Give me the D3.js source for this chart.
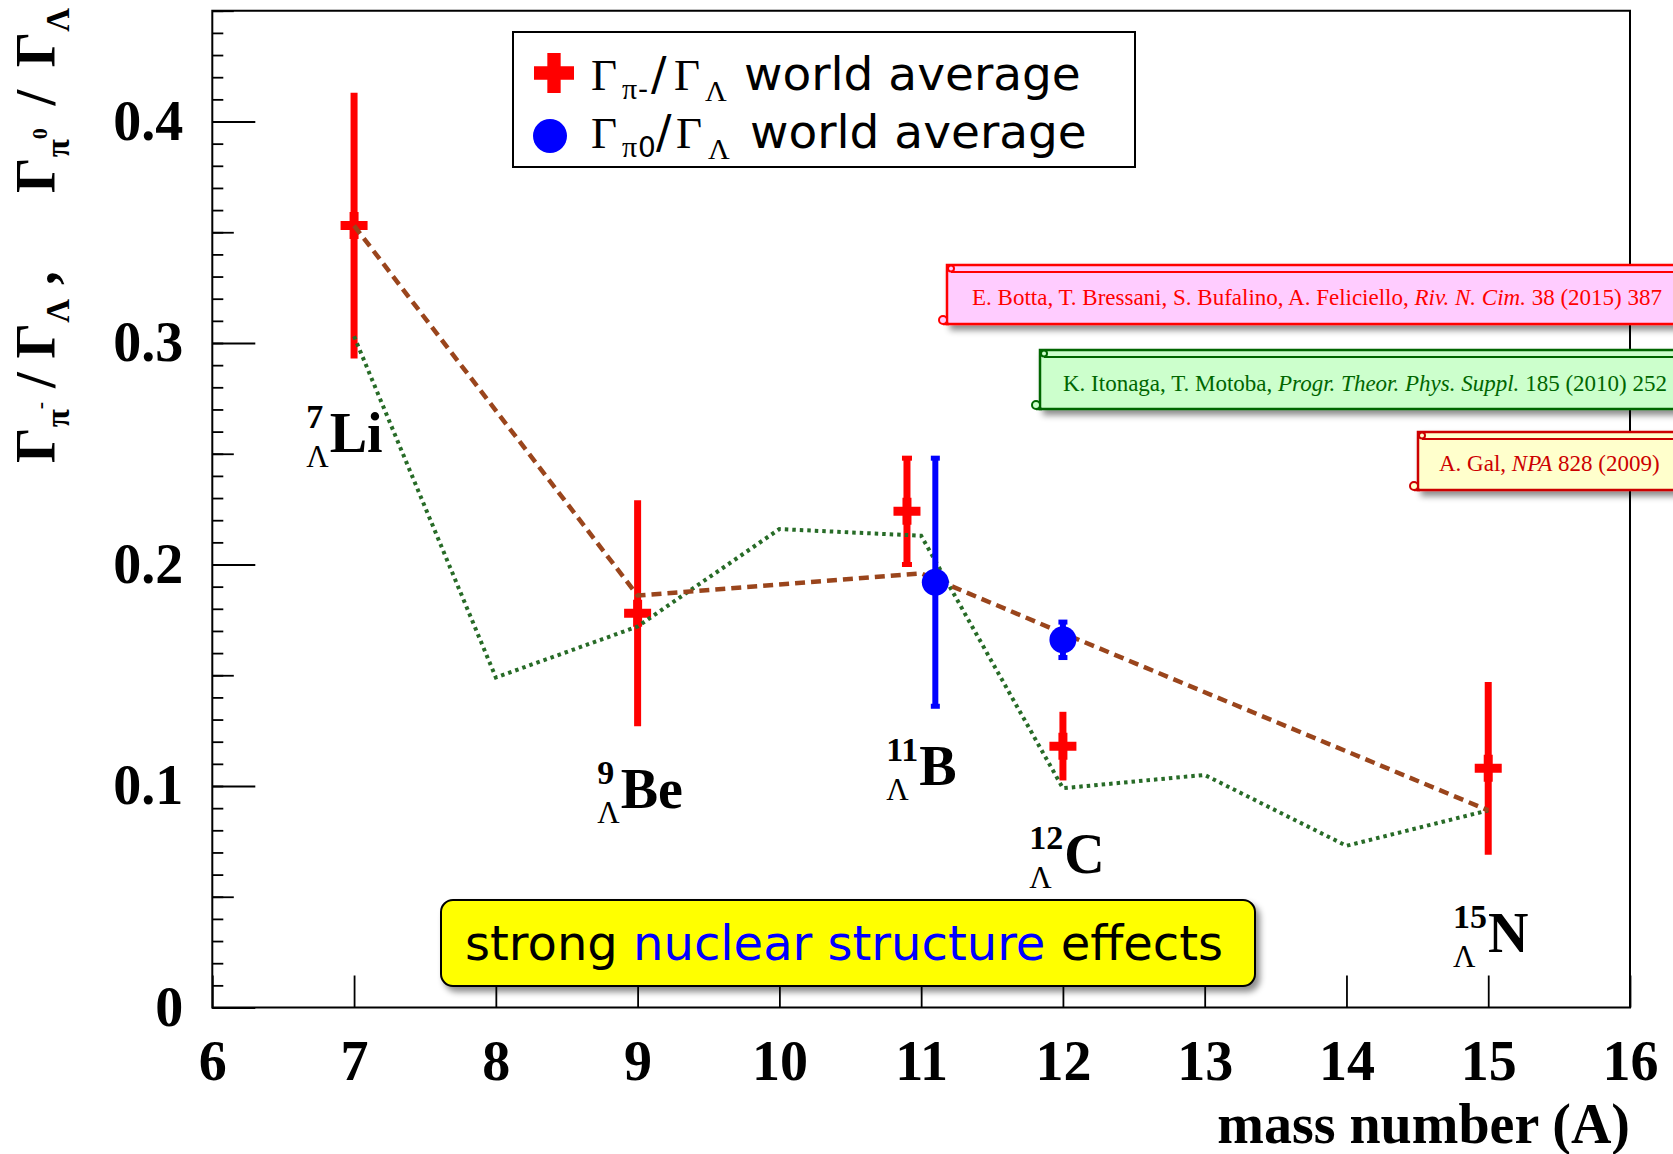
<!DOCTYPE html>
<html>
<head>
<meta charset="utf-8">
<script src="https://cdn.jsdelivr.net/npm/d3@7"></script>
<style>
  html, body { margin: 0; padding: 0; background: #ffffff; }
  svg { display: block; }
</style>
</head>
<body>
<svg id="chart" width="1673" height="1154"></svg>
<script>
// ---- measured decay-rate ratios (world averages) ----
const piMinusNuclide = ["7Li", "9Be", "11B", "12C", "15N"];
const piMinusA       = [7, 9, 10.9, 12, 15];
const piMinusRatio   = [0.353, 0.178, 0.224, 0.118, 0.108];
const piMinusErr     = [0.060, 0.051, 0.024, 0.0155, 0.039];

const piZeroNuclide  = ["11B", "12C"];
const piZeroA        = [11.1, 12];
const piZeroRatio    = [0.192, 0.166];
const piZeroErr      = [0.056, 0.008];

// ---- theoretical curves ----
const galA        = [7, 9, 11, 12, 15];
const galRatio    = [0.353, 0.186, 0.196, 0.169, 0.089];
const motobaA     = [7, 8, 9, 10, 11, 12, 13, 14, 15];
const motobaRatio = [0.303, 0.149, 0.172, 0.216, 0.213, 0.099, 0.105, 0.073, 0.089];

// ---- axes ----
const xTickValues = [6, 7, 8, 9, 10, 11, 12, 13, 14, 15, 16];
const xTickLabels = ["6", "7", "8", "9", "10", "11", "12", "13", "14", "15", "16"];
const yTickValues = [0, 0.1, 0.2, 0.3, 0.4];
const yTickLabels = ["0", "0.1", "0.2", "0.3", "0.4"];

// ---- hypernucleus labels ----
const labelMass   = ["7", "9", "11", "12", "15"];
const labelSymbol = ["Li", "Be", "B", "C", "N"];

// ================= drawing =================
const W = 1673, H = 1154;
const SERIF = "'Liberation Serif', 'Times New Roman', Times, serif";
const SANS  = "'DejaVu Sans', Verdana, sans-serif";
const RED = "#ff0000", BLUE = "#0000ff";
const BROWN = "#9a451c", GREEN = "#276b27";

const svg = d3.select("#chart");
const defs = svg.append("defs");
const sh = defs.append("filter").attr("id", "shadow")
  .attr("x", "-5%").attr("y", "-30%").attr("width", "115%").attr("height", "180%");
sh.append("feDropShadow").attr("dx", 4).attr("dy", 5).attr("stdDeviation", 3)
  .attr("flood-color", "#000").attr("flood-opacity", 0.45);

const frame = { left: 212.3, right: 1630, top: 10.75, bottom: 1007.5 };
const x = d3.scaleLinear().domain([6, 16]).range([frame.left, frame.right]);
const y = d3.scaleLinear().domain([0, 0.45]).range([frame.bottom, frame.top]);

// y ticks: minor (0.01), half (0.05), major (0.1, labelled)
const yMinor = d3.range(0, 0.4501, 0.01).map(v => +v.toFixed(2));
const yHalf  = d3.range(0.05, 0.4501, 0.1).map(v => +v.toFixed(2));
function tickLayer(axis) {
  const g = svg.append("g").attr("transform", `translate(${frame.left},0)`).call(axis);
  g.select(".domain").remove();
  g.selectAll("line").attr("stroke", "#000").attr("stroke-width", 1.8);
  return g;
}
tickLayer(d3.axisLeft(y).tickValues(yMinor).tickSize(-11).tickFormat(""));
tickLayer(d3.axisLeft(y).tickValues(yHalf).tickSize(-21.5).tickFormat(""));
const yMajor = tickLayer(d3.axisLeft(y).tickValues(yTickValues).tickSize(-43).tickPadding(29)
  .tickFormat((d, i) => yTickLabels[i]));
yMajor.selectAll("text").attr("fill", "#000")
  .style("font-family", SERIF).style("font-weight", "bold").style("font-size", "56px");

const xAxisG = svg.append("g").attr("transform", `translate(0,${frame.bottom})`)
  .call(d3.axisBottom(x).tickValues(xTickValues).tickSize(-32).tickPadding(33)
    .tickFormat((d, i) => xTickLabels[i]));
xAxisG.select(".domain").remove();
xAxisG.selectAll("line").attr("stroke", "#000").attr("stroke-width", 1.8);
xAxisG.selectAll("text").attr("fill", "#000")
  .style("font-family", SERIF).style("font-weight", "bold").style("font-size", "56px");

// frame
svg.append("rect").attr("x", frame.left).attr("y", frame.top)
  .attr("width", frame.right - frame.left).attr("height", frame.bottom - frame.top)
  .attr("fill", "none").attr("stroke", "#000").attr("stroke-width", 2);

// axis titles
svg.append("text").attr("x", frame.right).attr("y", 1143).attr("text-anchor", "end")
  .style("font-family", SERIF).style("font-weight", "bold").style("font-size", "56px")
  .text("mass number (A)");

// vertical title, two ratios read bottom to top
function ratioTitle(tx, anchor, pionSup, trailing, span) {
  const t = svg.append("text")
    .attr("transform", "translate(55,0) rotate(-90)")
    .attr("x", tx).attr("y", 0).attr("text-anchor", anchor)
    .style("font-family", SERIF).style("font-weight", "bold").style("font-size", "56px");
  t.append("tspan").text("Γ");
  t.append("tspan").attr("dy", 14).style("font-size", "33px").text("π");
  t.append("tspan").attr("dy", -22).style("font-size", "22px").text(pionSup);
  const slash = t.append("tspan").attr("dy", 8).text("\u00a0/\u00a0");
  const g2 = t.append("tspan").text("Γ");
  t.append("tspan").attr("dy", 14).style("font-size", "33px").text("Λ");
  if (trailing) t.append("tspan").attr("dy", -14).text(trailing);
  if (span) {
    const extra = Math.max(0, span - t.node().getComputedTextLength());
    slash.attr("dx", extra / 2);
    g2.attr("dx", extra / 2);
  }
}
ratioTitle(-463, "start", "-", "\u00a0,", null);
ratioTitle(-8, "end", "0", null, 185);

// reference scroll labels
function scrollBox(b) {
  const g = svg.append("g");
  const right = W + 60;
  g.append("rect").attr("x", b.x0).attr("y", b.top)
    .attr("width", right - b.x0).attr("height", b.bottom - b.top)
    .attr("fill", b.fill).attr("stroke", b.stroke).attr("stroke-width", 2.5)
    .attr("filter", "url(#shadow)");
  g.append("line").attr("x1", b.x0 + 4).attr("x2", right)
    .attr("y1", b.top + 7).attr("y2", b.top + 7)
    .attr("stroke", b.stroke).attr("stroke-width", 2);
  g.append("circle").attr("cx", b.x0 + 4).attr("cy", b.top + 3.5).attr("r", 3)
    .attr("fill", b.fill).attr("stroke", b.stroke).attr("stroke-width", 2);
  g.append("line").attr("x1", b.x0 - 4).attr("x2", b.x0 + 2)
    .attr("y1", b.bottom).attr("y2", b.bottom)
    .attr("stroke", b.stroke).attr("stroke-width", 2.5);
  g.append("circle").attr("cx", b.x0 - 4).attr("cy", b.bottom - 4).attr("r", 4)
    .attr("fill", b.fill).attr("stroke", b.stroke).attr("stroke-width", 2);
  const t = g.append("text").attr("x", b.tx).attr("y", b.ty).attr("fill", b.stroke)
    .style("font-family", SERIF).style("font-size", "23px");
  b.parts.forEach(p => t.append("tspan").style("font-style", p.i ? "italic" : "normal").text(p.s));
}
scrollBox({ x0: 947, top: 265, bottom: 324, tx: 972, ty: 305,
  fill: "#ffccff", stroke: "#ff0000",
  parts: [{ s: "E. Botta, T. Bressani, S. Bufalino, A. Feliciello, " }, { s: "Riv. N. Cim.", i: true }, { s: " 38 (2015) 387" }] });
scrollBox({ x0: 1040, top: 350, bottom: 409, tx: 1063, ty: 391,
  fill: "#ccffcc", stroke: "#006600",
  parts: [{ s: "K. Itonaga, T. Motoba, " }, { s: "Progr. Theor. Phys. Suppl.", i: true }, { s: " 185 (2010) 252" }] });
scrollBox({ x0: 1418, top: 432, bottom: 490, tx: 1439, ty: 471,
  fill: "#ffffcc", stroke: "#cc0000",
  parts: [{ s: "A. Gal, " }, { s: "NPA", i: true }, { s: " 828 (2009)" }] });

// hypernucleus labels, anchored in data units (left edge of prescripts, symbol baseline)
const labelAnchors = [[6.663, 0.2508], [8.715, 0.090], [10.753, 0.1004], [11.762, 0.0607], [14.752, 0.0251]];
labelSymbol.forEach((sym, i) => {
  const ax = x(labelAnchors[i][0]), ay = y(labelAnchors[i][1]);
  const g = svg.append("g");
  const sup = g.append("text").attr("x", ax).attr("y", ay - 24)
    .style("font-family", SERIF).style("font-weight", "bold").style("font-size", "34px").text(labelMass[i]);
  const sub = g.append("text").attr("x", ax).attr("y", ay + 15)
    .style("font-family", SERIF).style("font-size", "31px").text("Λ");
  const w = Math.max(sup.node().getComputedTextLength(), sub.node().getComputedTextLength());
  g.append("text").attr("x", ax + w + 1).attr("y", ay)
    .style("font-family", SERIF).style("font-weight", "bold").style("font-size", "56px").text(sym);
});

// pi- measurements
const cross = d3.symbol(d3.symbolCross, 5 * Math.pow(27 / 3, 2));
const redG = svg.append("g");
piMinusRatio.forEach((v, i) => {
  const cx = x(piMinusA[i]);
  redG.append("line").attr("x1", cx).attr("x2", cx)
    .attr("y1", y(v + piMinusErr[i])).attr("y2", y(v - piMinusErr[i]))
    .attr("stroke", RED).attr("stroke-width", 7);
  if (piMinusNuclide[i] === "11B") {
    [v + piMinusErr[i], v - piMinusErr[i]].forEach(e =>
      redG.append("rect").attr("x", cx - 5).attr("y", y(e) - 2.5).attr("width", 10).attr("height", 5).attr("fill", RED));
  }
  redG.append("path").attr("d", cross()).attr("transform", `translate(${cx},${y(v)})`).attr("fill", RED);
});

// theory curves
const line = d3.line().x(d => x(d[0])).y(d => y(d[1]));
svg.append("path").datum(motobaA.map((a, i) => [a, motobaRatio[i]]))
  .attr("d", line).attr("fill", "none").attr("stroke", GREEN)
  .attr("stroke-width", 4).attr("stroke-dasharray", "3.5,4");
svg.append("path").datum(galA.map((a, i) => [a, galRatio[i]]))
  .attr("d", line).attr("fill", "none").attr("stroke", BROWN)
  .attr("stroke-width", 4.5).attr("stroke-dasharray", "10,6");

// pi0 measurements
const blueG = svg.append("g");
piZeroRatio.forEach((v, i) => {
  const cx = x(piZeroA[i]);
  blueG.append("line").attr("x1", cx).attr("x2", cx)
    .attr("y1", y(v + piZeroErr[i])).attr("y2", y(v - piZeroErr[i]))
    .attr("stroke", BLUE).attr("stroke-width", 6);
  [v + piZeroErr[i], v - piZeroErr[i]].forEach(e =>
    blueG.append("rect").attr("x", cx - 4.5).attr("y", y(e) - 2.5).attr("width", 9).attr("height", 5).attr("fill", BLUE));
  blueG.append("circle").attr("cx", cx).attr("cy", y(v)).attr("r", 13.5).attr("fill", BLUE);
});

// legend
svg.append("rect").attr("x", 513).attr("y", 32).attr("width", 622).attr("height", 135)
  .attr("fill", "#fff").attr("stroke", "#000").attr("stroke-width", 2);
svg.append("path").attr("d", d3.symbol(d3.symbolCross, 5 * Math.pow(40 / 3, 2))())
  .attr("transform", "translate(554,73)").attr("fill", RED);
svg.append("circle").attr("cx", 550).attr("cy", 136).attr("r", 17).attr("fill", BLUE);
function legendLine(yb, pionText, px) {
  const piece = (s, xx, dy, fam, size) => svg.append("text").attr("x", xx).attr("y", yb + dy)
    .style("font-family", fam).style("font-size", size + "px").text(s);
  piece("Γ", px[0], 0, SERIF, 45);
  piece("π", px[1], 9, SERIF, 30);
  piece(pionText, px[2], 9, SANS, 28);
  piece("/", px[3], 0, SANS, 46);
  piece("Γ", px[4], 0, SERIF, 45);
  piece("Λ", px[5], 11, SERIF, 30);
  piece("world average", px[6], 0, SANS, 47);
}
legendLine(90, "-", [591, 622, 638, 651, 674, 705, 744]);
legendLine(148, "0", [591, 622, 638, 656, 676, 708, 750]);

// highlighted remark
svg.append("rect").attr("x", 441).attr("y", 900).attr("width", 814).attr("height", 86)
  .attr("rx", 12).attr("ry", 12).attr("fill", "#ffff00").attr("stroke", "#000").attr("stroke-width", 2)
  .attr("filter", "url(#shadow)");
const remark = svg.append("text").attr("x", 465).attr("y", 960)
  .style("font-family", SANS).style("font-size", "48px");
remark.append("tspan").attr("fill", "#000").text("strong ");
remark.append("tspan").attr("fill", BLUE).text("nuclear structure");
remark.append("tspan").attr("fill", "#000").text(" effects");
</script>
</body>
</html>
